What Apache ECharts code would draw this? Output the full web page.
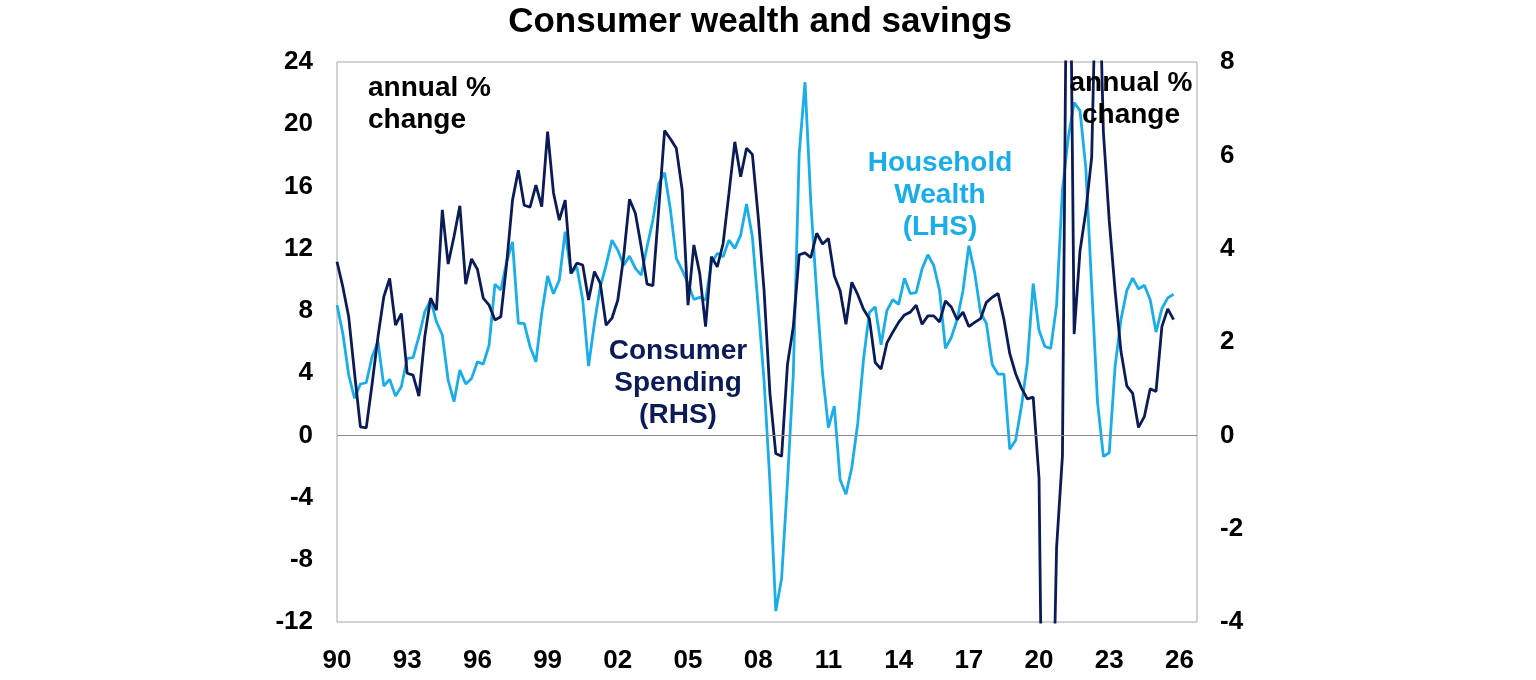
<!DOCTYPE html>
<html><head><meta charset="utf-8">
<script src="https://cdn.jsdelivr.net/npm/echarts@6/dist/echarts.min.js"></script>
<style>html,body{margin:0;padding:0;background:#fff}#c{width:1536px;height:680px}</style>
</head><body><div id="c"></div>
<script>
// Quarterly categories Mar-1990 .. Dec-2026 (axis runs slightly past the data)
const months = ['Mar','Jun','Sep','Dec'];
const categories = [];
for (let y = 1990; y <= 2026; y++) for (const m of months) categories.push(m + '-' + y);

const yearTickLabels = ['90','93','96','99','02','05','08','11','14','17','20','23','26'];

// Household wealth, annual % change (LHS)
const householdWealth = [
 8.37,6.55,3.88,2.38,3.30,3.38,5.05,6.02,3.17,3.60,2.53,3.12,
 4.95,4.99,6.34,7.94,8.70,7.30,6.45,3.55,2.16,4.20,3.30,3.66,
 4.73,4.58,5.80,9.72,9.34,11.16,12.44,7.20,7.20,5.70,4.73,7.84,
 10.24,9.10,9.98,13.09,10.41,10.84,8.70,4.45,7.20,9.55,10.94,12.55,
 11.90,10.94,11.52,10.73,10.30,12.12,13.84,16.20,16.88,14.48,11.38,10.62,
 9.77,8.74,8.87,8.70,11.05,11.70,11.48,12.55,12.02,12.87,14.87,12.76,
 8.26,3.50,-3.0,-11.30,-9.20,-3.0,3.97,18.10,22.70,14.90,9.10,3.97,
 0.50,1.88,-2.86,-3.79,-2.05,0.73,4.90,7.90,8.26,5.82,8.02,8.72,
 8.42,10.10,9.11,9.18,10.69,11.61,10.92,9.30,5.59,6.29,7.44,9.30,
 12.19,10.46,7.90,7.20,4.55,3.93,3.93,-0.90,-0.31,1.88,4.67,9.76,
 6.75,5.71,5.59,8.37,15.78,19.14,21.39,20.87,17.18,9.53,2.12,-1.36,
 -1.12,4.43,7.44,9.30,10.11,9.41,9.65,8.72,6.64,8.14,8.84,9.07
];

// Consumer spending, annual % change (RHS)
const consumerSpending = [
 3.72,3.18,2.54,1.33,0.18,0.16,1.10,2.11,2.97,3.36,2.36,2.61,
 1.33,1.29,0.84,2.11,2.94,2.68,4.83,3.67,4.26,4.92,3.24,3.78,
 3.56,2.94,2.79,2.47,2.54,3.68,5.04,5.68,4.93,4.89,5.36,4.90,
 6.51,5.20,4.61,5.04,3.47,3.69,3.65,2.90,3.51,3.26,2.36,2.51,
 2.90,3.83,5.06,4.76,4.04,3.24,3.21,4.86,6.53,6.35,6.15,5.26,
 2.79,4.08,3.47,2.33,3.83,3.61,4.11,5.19,6.29,5.54,6.15,6.02,
 4.68,3.10,0.90,-0.39,-0.45,1.52,2.33,3.87,3.91,3.81,4.33,4.10,
 4.22,3.42,3.10,2.38,3.28,3.02,2.70,2.50,1.56,1.42,1.98,2.21,
 2.42,2.58,2.64,2.79,2.38,2.56,2.56,2.43,2.88,2.75,2.48,2.64,
 2.33,2.42,2.50,2.85,2.96,3.04,2.48,1.75,1.32,1.01,0.78,0.82,
 -0.92,-12.0,-8.5,-2.4,-0.44,15.0,2.17,3.95,4.80,5.96,11.5,6.5,
 4.6,3.1,1.8,1.06,0.90,0.17,0.40,1.00,0.94,2.33,2.71,2.48
];

const FONT = '"Liberation Sans", Arial, sans-serif';
const DARK = '#0b1b58';
const LIGHT = '#19aeea';

const chart = echarts.init(document.getElementById('c'), null, {renderer: 'canvas'});
chart.setOption({
  animation: false,
  backgroundColor: '#ffffff',
  grid: {left: 337, right: 339, top: 62, bottom: 58, show: true, borderColor: '#a6a6a6', borderWidth: 1, backgroundColor: 'transparent'},
  xAxis: {
    type: 'category', data: categories, boundaryGap: false,
    axisLine: {show: false}, axisTick: {show: false}, splitLine: {show: false},
    axisLabel: {
      interval: function (i) { return i % 12 === 0; },
      formatter: function (v, i) { return i % 12 === 0 ? yearTickLabels[i / 12] : ''; },
      color: '#000', fontFamily: FONT, fontWeight: 'bold', fontSize: 26, margin: 26
    }
  },
  yAxis: [
    {type: 'value', min: -12, max: 24, interval: 4, position: 'left',
     axisLine: {show: false}, axisTick: {show: false}, splitLine: {show: false},
     axisLabel: {color: '#000', fontFamily: FONT, fontWeight: 'bold', fontSize: 26, margin: 24}},
    {type: 'value', min: -4, max: 8, interval: 2, position: 'right',
     axisLine: {show: false}, axisTick: {show: false}, splitLine: {show: false},
     axisLabel: {color: '#000', fontFamily: FONT, fontWeight: 'bold', fontSize: 26, margin: 23}}
  ],
  series: [
    {name: 'Household Wealth (LHS)', type: 'line', yAxisIndex: 0, data: householdWealth,
     symbol: 'none', clip: true, lineStyle: {color: LIGHT, width: 2.8}, z: 3,
     markLine: {silent: true, symbol: 'none', label: {show: false},
       lineStyle: {color: '#8c8c8c', width: 1, type: 'solid'}, data: [{yAxis: 0}]}},
    {name: 'Consumer Spending (RHS)', type: 'line', yAxisIndex: 1, data: consumerSpending,
     symbol: 'none', clip: true, lineStyle: {color: DARK, width: 2.8}, z: 4}
  ],
  graphic: [
    {type: 'text', x: 760, y: 5, style: {text: 'Consumer wealth and savings', fill: '#000', font: 'bold 35px ' + FONT, textAlign: 'center'}},
    {type: 'text', x: 368, y: 72, style: {text: 'annual %\nchange', fill: '#000', font: 'bold 28px ' + FONT, lineHeight: 32, textAlign: 'left'}},
    {type: 'text', x: 1131, y: 67, z: 100, style: {text: 'annual %\nchange', fill: '#000', font: 'bold 28px ' + FONT, lineHeight: 32, textAlign: 'center'}},
    {type: 'text', x: 940, y: 147, style: {text: 'Household\nWealth\n(LHS)', fill: LIGHT, font: 'bold 28px ' + FONT, lineHeight: 32, textAlign: 'center'}},
    {type: 'text', x: 678, y: 335, style: {text: 'Consumer\nSpending\n(RHS)', fill: DARK, font: 'bold 28px ' + FONT, lineHeight: 32, textAlign: 'center'}}
  ]
});
</script></body></html>
